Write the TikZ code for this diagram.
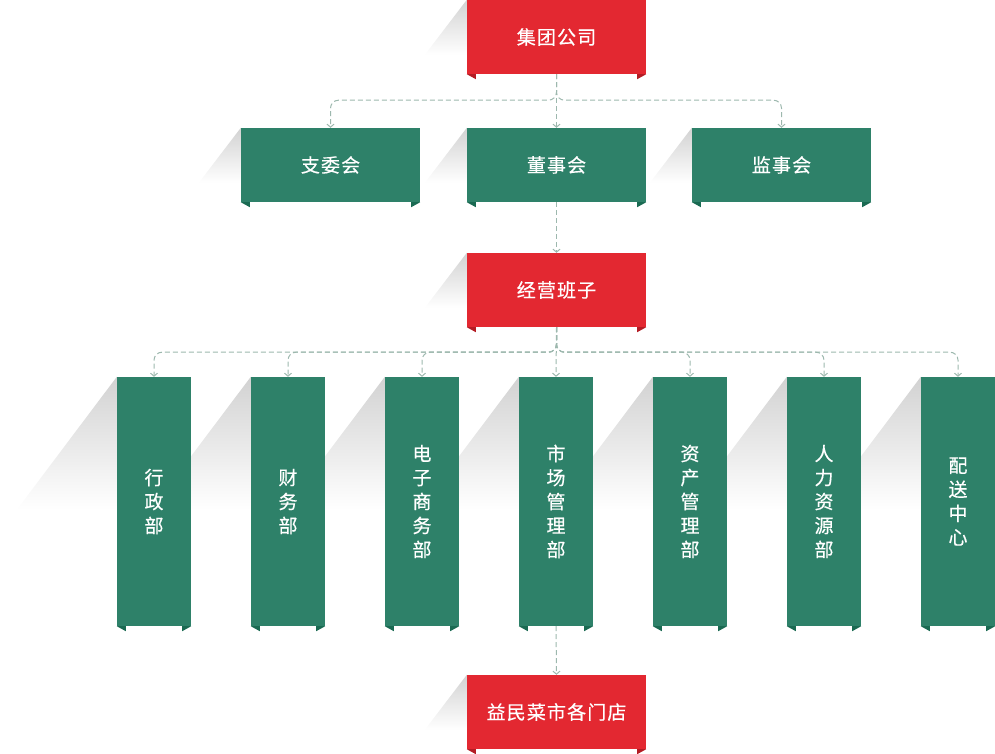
\documentclass[tikz,border=0pt]{standalone}
\usepackage{fontspec}
\setmainfont{Noto Sans CJK SC}[LetterSpace=6,FakeBold=0.4]
\usetikzlibrary{arrows.meta,backgrounds}

\definecolor{boxred}{HTML}{E32831}
\definecolor{tabred}{HTML}{B41C24}
\definecolor{boxgreen}{HTML}{2E8169}
\definecolor{tabgreen}{HTML}{1A6A52}
\definecolor{linkgray}{HTML}{9DB8AE}
\definecolor{shadegray}{HTML}{D2D2D2}

\tikzset{
  redbox/.style={fill=boxred, text=white, inner sep=0pt, minimum width=179pt, minimum height=74pt, font=\fontsize{19}{24}\selectfont},
  greenbox/.style={redbox, fill=boxgreen},
  colbox/.style={greenbox, minimum width=74pt, minimum height=249pt, align=center},
  link/.style={draw=linkgray, line width=1pt, dash pattern=on 5pt off 3pt, rounded corners=8pt, -{Straight Barb[length=3pt,width=7pt]}},
}

\begin{document}
\begin{tikzpicture}[x=1pt,y=-1pt]
  \useasboundingbox (0,0) rectangle (995,754);

  % boxes
  \node[redbox] (grp) at (556.5,37) {集团公司};
  \node[greenbox] (zwh) at (330.5,165) {支委会};
  \node[greenbox] (dsh) at (556.5,165) {董事会};
  \node[greenbox] (jsh) at (781.5,165) {监事会};
  \node[redbox] (jy) at (556.5,290) {经营班子};
  \foreach \txt [count=\i] in {{行\\政\\部},{财\\务\\部},{电\\子\\商\\务\\部},{市\\场\\管\\理\\部},{资\\产\\管\\理\\部},{人\\力\\资\\源\\部},{配\\送\\中\\心}}
    \node[colbox] (d\i) at (20+134*\i,501.5) {\txt};
  \node[redbox] (md) at (556.5,712) {益民菜市各门店};

  % shadows behind
  \begin{pgfonlayer}{background}
    \foreach \n in {grp,zwh,dsh,jsh,jy,md}
      \shade[top color=shadegray, bottom color=white] (\n.north west) -- ++(-42,55) -- ++(42,0) -- cycle;
    \foreach \i in {1,...,7}
      \shade[top color=shadegray, bottom color=white] (d\i.north west) -- ++(-100,133) -- ++(100,0) -- cycle;
  \end{pgfonlayer}

  % ribbon tabs
  \foreach \n/\c in {grp/tabred,jy/tabred,md/tabred,zwh/tabgreen,dsh/tabgreen,jsh/tabgreen,d1/tabgreen,d2/tabgreen,d3/tabgreen,d4/tabgreen,d5/tabgreen,d6/tabgreen,d7/tabgreen} {
    \fill[\c] (\n.south west) -- ++(9,5) -- ++(0,-5) -- cycle;
    \fill[\c] (\n.south east) -- ++(-9,5) -- ++(0,-5) -- cycle;
  }

  % connectors
  \draw[link] (grp.south) -- (dsh.north);
  \draw[link] (grp.south) -- ++(0,26) -| (zwh.north);
  \draw[link] (grp.south) -- ++(0,26) -| (jsh.north);
  \draw[link] (dsh.south) -- (jy.north);
  \foreach \i in {1,2,3,5,6,7}
    \draw[link] (jy.south) -- ++(0,25) -| (d\i.north);
  \draw[link] (jy.south) -- (d4.north);
  \draw[link] (d4.south) -- (md.north);
\end{tikzpicture}
\end{document}
